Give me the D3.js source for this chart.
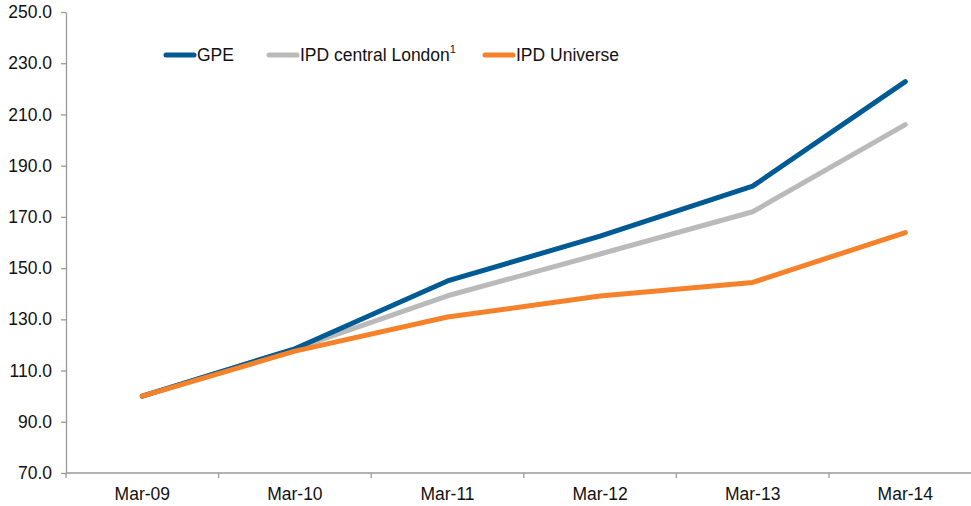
<!DOCTYPE html>
<html lang="en">
<head>
  <meta charset="UTF-8">
  <title>GPE vs IPD</title>
  <script src="https://d3js.org/d3.v7.min.js"></script>
  <style>
    body { margin: 0; background: #fff; }
    svg { display: block; }
    .axis path, .axis line { stroke: #999; stroke-width: 1.3; }
    .axis text { fill: #111; font-family: 'Liberation Sans', Arial, sans-serif; font-size: 17.5px; }
    .legend text { fill: #111; font-family: 'Liberation Sans', Arial, sans-serif; font-size: 17.5px; }
    .line { fill: none; stroke-width: 5; stroke-linecap: round; stroke-linejoin: round; }
  </style>
</head>
<body>
<svg id="chart" width="971" height="506"></svg>
<script>
const categories = ["Mar-09", "Mar-10", "Mar-11", "Mar-12", "Mar-13", "Mar-14"];
const gpe = [100.0, 118.5, 145.0, 162.5, 182.0, 222.8];
const ipdLondon = [100.0, 118.5, 139.2, 155.5, 172.0, 206.0];
const ipdUniverse = [100.0, 117.6, 130.9, 139.1, 144.4, 163.9];
const seriesNames = ["GPE", "IPD central London", "IPD Universe"];
const colors = ["#005a94", "#bababa", "#f5822a"];
const yTicks = [70, 90, 110, 130, 150, 170, 190, 210, 230, 250];

const margin = {top: 12, left: 66, bottom: 33};
const svg = d3.select("#chart");
const H = 506;
const bandW = 152.6;

const x = d3.scaleBand().domain(categories).range([margin.left, margin.left + bandW * categories.length]);
const y = d3.scaleLinear().domain([70, 250]).range([H - margin.bottom, margin.top]);

// y axis
svg.append("g").attr("class", "axis")
  .attr("transform", `translate(${margin.left},0)`)
  .call(d3.axisLeft(y).tickValues(yTicks).tickFormat(d3.format(".1f")).tickSize(5).tickSizeOuter(0).tickPadding(9));

// x axis with ticks between categories
const xAxis = svg.append("g").attr("class", "axis")
  .attr("transform", `translate(0,${y(70)})`);
xAxis.append("path").attr("d", `M${margin.left},0H${margin.left + bandW * categories.length}`);
const bounds = d3.range(categories.length + 1).map(i => margin.left + i * bandW);
xAxis.selectAll("line.tk").data(bounds).join("line")
  .attr("x1", d => d).attr("x2", d => d).attr("y1", 0).attr("y2", 5);
xAxis.selectAll("text").data(categories).join("text")
  .attr("x", d => x(d) + x.bandwidth() / 2)
  .attr("y", 27)
  .attr("text-anchor", "middle")
  .text(d => d);

const line = d3.line()
  .x((d, i) => x(categories[i]) + x.bandwidth() / 2)
  .y(d => y(d));

[ipdLondon, gpe, ipdUniverse].forEach((data, k) => {
  const idx = [1, 0, 2][k];
  svg.append("path").datum(data)
    .attr("class", "line")
    .attr("stroke", colors[idx])
    .attr("d", line);
});

// legend
const legend = svg.append("g").attr("class", "legend");
const legendX = [166, 269, 485];
seriesNames.forEach((name, i) => {
  const g = legend.append("g").attr("transform", `translate(${legendX[i]},55)`);
  g.append("line").attr("x1", 0).attr("x2", 28).attr("y1", 0).attr("y2", 0)
    .attr("stroke", colors[i]).attr("stroke-width", 5).attr("stroke-linecap", "round");
  const t = g.append("text").attr("x", 31).attr("y", 6).text(name);
  if (i === 1) {
    t.append("tspan").attr("dy", -8).attr("font-size", "11px").text("1");
  }
});
</script>
</body>
</html>
